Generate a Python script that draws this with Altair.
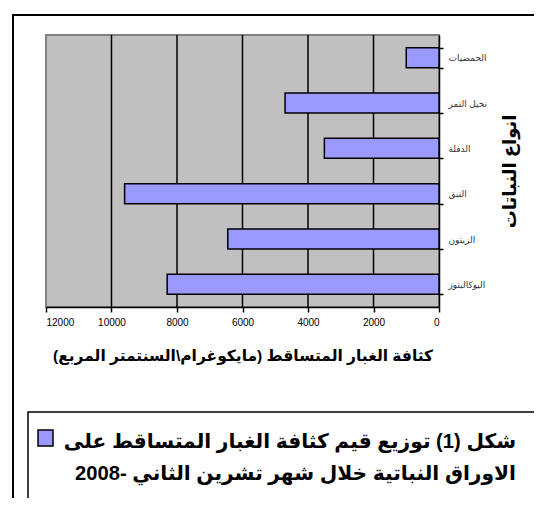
import altair as alt
import pandas as pd

plants = ["الحمضيات", "نخيل التمر", "الدفلة", "النبق", "الزيتون", "اليوكالبتوز"]
density = [1000, 4700, 3500, 9600, 6450, 8300]
x_ticks = [0, 2000, 4000, 6000, 8000, 10000, 12000]
grid_values = [2000, 4000, 6000, 8000, 10000]

x_title = "كثافة الغبار المتساقط (مايكوغرام\\السنتمتر المربع)"
y_title = "انواع النباتات"
caption_lines = [
    "شكل (1) توزيع قيم كثافة الغبار المتساقط على",
    "الاوراق النباتية خلال شهر تشرين الثاني -2008",
]

W, H = 393, 272
FONT = "Liberation Sans, DejaVu Sans, sans-serif"
BAR = "#9999FF"

df = pd.DataFrame({"plant": plants, "density": density})
grid_df = pd.DataFrame({"v": grid_values})
one = pd.DataFrame({"a": [0]})

xscale = alt.Scale(domain=[0, 12000], reverse=True, nice=False)
xaxis = alt.Axis(
    values=x_ticks, grid=False, title=x_title, format="d",
    labelFont=FONT, labelFontSize=10, labelColor="black",
    tickColor="black", tickSize=5, tickWidth=1.5,
    domainColor="black", domainWidth=1.5, labelPadding=5,
    titleFont=FONT, titleFontSize=15.5, titleFontWeight="bold",
    titleColor="black", titlePadding=21,
)

grid = alt.Chart(grid_df).mark_rule(color="black", strokeWidth=1.5).encode(
    x=alt.X("v:Q", scale=xscale, axis=xaxis)
)

bars = alt.Chart(df).mark_bar(fill=BAR, stroke="black", strokeWidth=1.5).encode(
    x=alt.X("density:Q", scale=xscale, axis=xaxis),
    y=alt.Y(
        "plant:N",
        sort=plants,
        scale=alt.Scale(paddingInner=0.56, paddingOuter=0.28),
        axis=alt.Axis(
            orient="right", tickBand="extent", tickSize=4, tickColor="black",
            tickWidth=1.5, domainColor="black", domainWidth=1.5,
            labelFont=FONT, labelFontSize=9, labelColor="#333333",
            labelPadding=5, title=y_title, titleAngle=270,
            titleFont=FONT, titleFontSize=18, titleFontWeight="bold",
            titleColor="black", titlePadding=33,
        ),
    ),
)

outer = alt.Chart(one).mark_rect(fill=None, stroke="black", strokeWidth=2).encode(
    x=alt.value(-33), x2=alt.value(500), y=alt.value(-20), y2=alt.value(480)
)
legend_box = alt.Chart(one).mark_rect(fill="white", stroke="black", strokeWidth=1.5).encode(
    x=alt.value(-18), x2=alt.value(491), y=alt.value(377), y2=alt.value(468)
)
legend_sq = alt.Chart(one).mark_rect(fill=BAR, stroke="black", strokeWidth=1.5).encode(
    x=alt.value(-8), x2=alt.value(7), y=alt.value(395), y2=alt.value(411)
)
cap1 = alt.Chart(one).mark_text(
    align="right", baseline="alphabetic", font=FONT, fontSize=20.2,
    fontWeight="bold", color="black"
).encode(x=alt.value(470), y=alt.value(413), text=alt.value(caption_lines[0]))
cap2 = alt.Chart(one).mark_text(
    align="right", baseline="alphabetic", font=FONT, fontSize=20.2,
    fontWeight="bold", color="black"
).encode(x=alt.value(470), y=alt.value(445), text=alt.value(caption_lines[1]))

chart = alt.layer(grid, bars, outer, legend_box, legend_sq, cap1, cap2).properties(
    width=W, height=H,
    autosize=alt.AutoSizeParams(type="none"),
    padding={"left": 38, "top": 27, "right": 95, "bottom": 191},
    background="white",
).configure_view(fill="#C0C0C0", stroke="#808080", strokeWidth=2)

chart.save("out.html", embed_options={"renderer": "svg", "actions": False})
